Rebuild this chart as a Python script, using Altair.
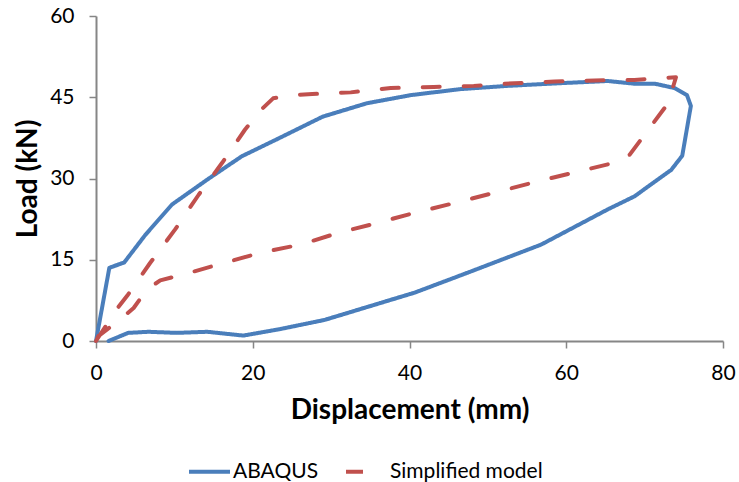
import altair as alt
import pandas as pd

series_names = ["ABAQUS", "Simplified model"]

abaqus_x = [0, 1.7, 3.6, 6.3, 9.7, 14.2, 18.6, 23.3, 28.9, 34.6, 40.2, 46.5, 52.5, 59.3,
            65.3, 68.7, 71.3, 73.8, 75.4, 75.9, 74.8, 73.4, 68.7, 65.3, 56.8, 47.4, 40.6,
            29.2, 23.5, 18.8, 14.2, 10.3, 6.7, 4.1, 1.6]
abaqus_y = [0, 13.5, 14.5, 19.6, 25.2, 29.8, 34.1, 37.4, 41.4, 43.9, 45.4, 46.5, 47.1, 47.6,
            48.0, 47.5, 47.5, 46.7, 45.4, 43.4, 34.2, 31.6, 26.7, 24.3, 17.8, 12.6, 8.9,
            3.9, 2.2, 1.0, 1.7, 1.5, 1.7, 1.5, 0.0]

simp_x = [0, 2.6, 4.1, 6.9, 10.1, 13.1, 16.1, 19.0, 21.0, 22.6, 25.2, 27.6, 32.5, 37.6,
          43.1, 48.2, 53.4, 58.5, 63.6, 68.7, 74.0, 73.0, 70.0, 68.1, 66.1, 61.0, 55.9,
          46.1, 41.0, 35.9, 31.0, 26.1, 21.0, 16.3, 11.2, 8.2, 6.5, 4.8, 3.1, 0.3, 0]
simp_y = [0, 5.8, 8.6, 14.4, 20.6, 27.0, 32.9, 39.0, 42.6, 44.8, 45.4, 45.6, 45.9, 46.7,
          46.9, 47.1, 47.6, 47.9, 48.1, 48.2, 48.7, 43.9, 38.1, 34.4, 32.9, 31.1, 29.3,
          25.6, 23.8, 21.8, 20.0, 17.8, 16.3, 14.4, 12.3, 11.2, 9.5, 6.1, 4.0, 0.9, 0]

x_ticks = [0, 20, 40, 60, 80]
y_ticks = [0, 15, 30, 45, 60]

rows = []
for i, (x, y) in enumerate(zip(abaqus_x, abaqus_y)):
    rows.append({"series": series_names[0], "x": x, "y": y, "order": i})
for i, (x, y) in enumerate(zip(simp_x, simp_y)):
    rows.append({"series": series_names[1], "x": x, "y": y, "order": i})
df = pd.DataFrame(rows)

FONT = "Lato"

chart = alt.Chart(df).mark_line(strokeWidth=4, strokeCap="round", strokeJoin="round").encode(
    x=alt.X("x:Q", scale=alt.Scale(domain=[0, 80], nice=False),
            axis=alt.Axis(values=x_ticks, title="Displacement (mm)", grid=False,
                          labelFlush=False, labelPadding=14, titlePadding=13)),
    y=alt.Y("y:Q", scale=alt.Scale(domain=[0, 60], nice=False),
            axis=alt.Axis(values=y_ticks, title="Load (kN)", grid=False,
                          labelFlush=False, labelPadding=15, titlePadding=7)),
    color=alt.Color("series:N", scale=alt.Scale(domain=series_names, range=["#4A7EBB", "#C0504D"]),
                    legend=alt.Legend(title=None, orient="none", direction="horizontal",
                                      legendX=91, legendY=433, symbolType="stroke",
                                      symbolSize=1681, symbolStrokeWidth=4,
                                      labelFontSize=21, labelFont=FONT, labelColor="#000000",
                                      columnPadding=19, labelOffset=1)),
    strokeDash=alt.StrokeDash("series:N", scale=alt.Scale(domain=series_names, range=[[1, 0], [17, 24]]),
                              legend=None),
    order="order:Q",
    detail="series:N",
).properties(
    width=627, height=325,
    padding={"left": 96, "top": 16, "right": 16, "bottom": 141},
    autosize=alt.AutoSizeParams(type="none"),
    background="white",
).configure_view(stroke=None).configure_axis(
    domainColor="#868686", tickColor="#868686", domainWidth=2, tickWidth=1.5, tickSize=7,
    labelFont=FONT, labelFontSize=21, labelColor="#000000",
    titleFont=FONT, titleFontSize=28, titleFontWeight="bold", titleColor="#000000",
)

chart.save("out.html", embed_options={"renderer": "svg", "actions": False})
